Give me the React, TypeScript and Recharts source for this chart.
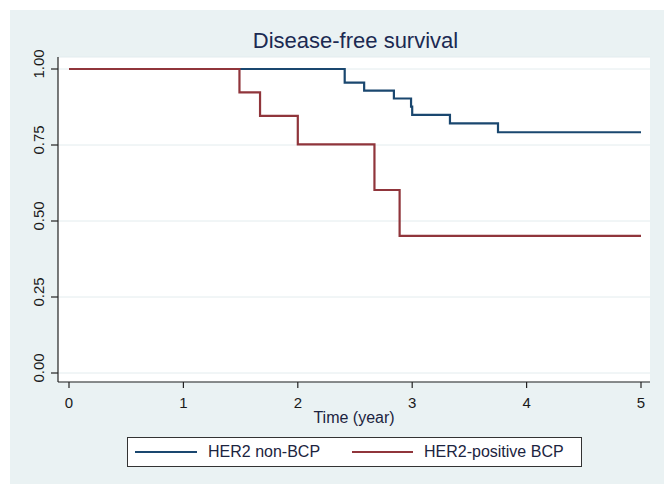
import { LineChart, Line, XAxis, YAxis, CartesianGrid, Label } from 'recharts';

const FONT = '"Liberation Sans", Arial, Helvetica, sans-serif';
const NAVY = '#1a476f';
const MAROON = '#90353b';
const BG = '#eaf2f3';

// Kaplan-Meier steps (time in years, survival proportion)
const timesNonBcp = [0, 2.41, 2.58, 2.84, 2.99, 3.0, 3.33, 3.75, 5];
const survivalNonBcp = [1, 0.955, 0.929, 0.903, 0.876, 0.849, 0.821, 0.792, 0.792];

const timesPositive = [0, 1.49, 1.67, 2.0, 2.67, 2.89, 5];
const survivalPositive = [1, 0.923, 0.846, 0.752, 0.602, 0.451, 0.451];

const xTicks = [0, 1, 2, 3, 4, 5];
const yTicks = [0, 0.25, 0.5, 0.75, 1];

const nonBcpData = timesNonBcp.map((t, i) => ({ t, s: survivalNonBcp[i] }));
const positiveData = timesPositive.map((t, i) => ({ t, s: survivalPositive[i] }));

function RotatedYTick(props: any) {
  const { x, y, payload } = props;
  // Stata draws these a few px above the tick mark
  const cy = y - 5;
  return (
    <text
      x={x}
      y={cy}
      transform={`rotate(-90, ${x}, ${cy})`}
      textAnchor="middle"
      fontSize={15}
      fill="#1a1a1a"
      fontFamily={FONT}
    >
      {Number(payload.value).toFixed(2)}
    </text>
  );
}

function LegendItem({ color, label, lineWidth }: { color: string; label: string; lineWidth: number }) {
  return (
    <div style={{ display: 'flex', alignItems: 'center' }}>
      <span
        style={{
          display: 'inline-block',
          width: lineWidth,
          height: 2,
          backgroundColor: color,
          marginRight: 11,
        }}
      />
      <span style={{ fontSize: 16, color: '#1c2440' }}>{label}</span>
    </div>
  );
}

export default function App() {
  return (
    <div
      style={{
        position: 'absolute',
        left: 0,
        top: 0,
        width: 664,
        height: 484,
        background: '#fff',
        fontFamily: FONT,
        overflow: 'hidden',
      }}
    >
      <div
        style={{
          position: 'absolute',
          left: 10,
          top: 10,
          width: 654,
          height: 474,
          background: BG,
        }}
      />
      <div
        style={{
          position: 'absolute',
          left: 155.5,
          top: 30,
          width: 400,
          textAlign: 'center',
          fontSize: 22,
          lineHeight: '22px',
          color: '#1b2a52',
          whiteSpace: 'nowrap',
        }}
      >
        Disease-free survival
      </div>
      <div style={{ position: 'absolute', left: 0, top: 0 }}>
        <LineChart
          width={664}
          height={484}
          margin={{ top: 57, right: 14, bottom: 42, left: 10 }}
          style={{ fontFamily: FONT }}
        >
          <CartesianGrid vertical={false} fill="#ffffff" stroke="#e3ecee" strokeWidth={1} />
          <XAxis
            type="number"
            dataKey="t"
            domain={[0, 5]}
            ticks={xTicks}
            padding={{ left: 11, right: 9 }}
            height={60}
            tickSize={6}
            tickMargin={9}
            axisLine={{ stroke: '#222', strokeWidth: 1.2 }}
            tickLine={{ stroke: '#222', strokeWidth: 1.2 }}
            tick={{ fontSize: 15, fill: '#1a1a1a', fontFamily: FONT }}
          >
            <Label
              value="Time (year)"
              position="insideTop"
              offset={30}
              fontSize={16}
              fill="#1c2440"
              fontFamily={FONT}
            />
          </XAxis>
          <YAxis
            type="number"
            domain={[0, 1]}
            ticks={yTicks}
            padding={{ top: 12, bottom: 9 }}
            width={48}
            tickSize={7}
            tickMargin={7.5}
            axisLine={{ stroke: '#222', strokeWidth: 1.2 }}
            tickLine={{ stroke: '#222', strokeWidth: 1.2 }}
            tick={<RotatedYTick />}
          />
          {/* maroon last so it sits on top where both curves are at 1.0 */}
          <Line
            data={nonBcpData}
            dataKey="s"
            type="stepAfter"
            stroke={NAVY}
            strokeWidth={2.2}
            dot={false}
            isAnimationActive={false}
          />
          <Line
            data={positiveData}
            dataKey="s"
            type="stepAfter"
            stroke={MAROON}
            strokeWidth={2.2}
            dot={false}
            isAnimationActive={false}
          />
        </LineChart>
      </div>
      <div
        style={{
          position: 'absolute',
          left: 127,
          top: 437,
          width: 453,
          height: 28,
          border: '1px solid #333',
          background: '#fff',
          display: 'flex',
          alignItems: 'center',
          boxSizing: 'content-box',
        }}
      >
        <div style={{ position: 'absolute', left: 7 }}>
          <LegendItem color={NAVY} label="HER2 non-BCP" lineWidth={62} />
        </div>
        <div style={{ position: 'absolute', left: 224 }}>
          <LegendItem color={MAROON} label="HER2-positive BCP" lineWidth={61} />
        </div>
      </div>
    </div>
  );
}
